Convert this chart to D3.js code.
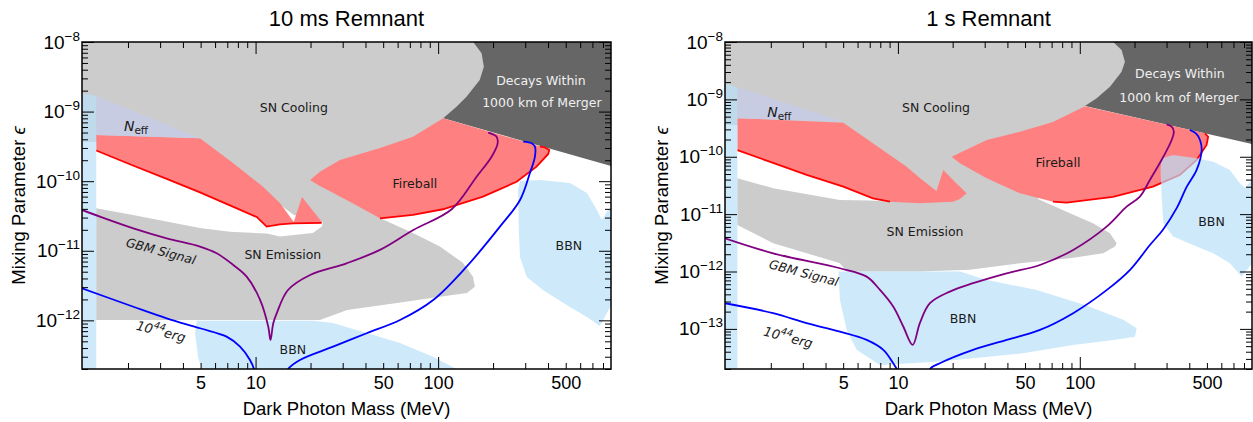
<!DOCTYPE html>
<html>
<head>
<meta charset="utf-8">
<script src="https://cdn.jsdelivr.net/npm/d3@7"></script>
<style>
  body { margin: 0; background: #fff; }
  svg { display: block; }
</style>
</head>
<body>
<svg width="1253" height="422"></svg>
<script>
// shared mass axis (MeV)
const massDomain = [1.12, 885];
const massLabelTicks = [5, 10, 50, 100, 500];
const massMajorTicks = [10, 100];
const massMinorTicks = [2, 3, 4, 5, 6, 7, 8, 9, 20, 30, 40, 50, 60, 70, 80, 90, 200, 300, 400, 500, 600, 700, 800];

// ---- 10 ms remnant ----
const ms10EpsDomain = [2e-13, 1e-8];
const ms10EpsTicks = [1e-12, 1e-11, 1e-10, 1e-9, 1e-8];
const ms10Decays = [[90, 1e-8], [885, 1e-8], [885, 1.65e-10], [106.6, 8.0e-10], [90, 1.05e-9]];
const ms10SN = [[1.0, 1e-8], [155.6, 1e-8], [173, 6.9e-9], [178, 4.42e-9], [169, 2.84e-9], [143, 1.64e-9],
  [126, 1.175e-9], [106.6, 8.0e-10], [61.8, 7.5e-11], [49.2, 2.86e-11], [72.8, 1.8e-11], [102.3, 1.15e-11],
  [136.7, 6.7e-12], [155.2, 4.25e-12], [159, 3.05e-12], [143.8, 2.48e-12], [102.3, 2.19e-12], [59.5, 1.78e-12],
  [31.7, 1.41e-12], [22.5, 1.01e-12], [1.34, 1.01e-12], [1.34, 4.08e-11], [2.13, 3.27e-11], [4.96, 2.13e-11],
  [7.24, 1.88e-11], [11.5, 1.77e-11], [13.6, 1.6e-11], [20.6, 1.8e-11], [23.0, 2.22e-11], [23.4, 2.59e-11],
  [16.2, 3.27e-11], [10.6, 7.5e-11], [4.96, 2.02e-10], [1.34, 3.66e-10], [1.0, 3.66e-10]];
const ms10FireA = [[1.34, 4.61e-10], [4.96, 4.13e-10], [7.52, 1.83e-10], [10.98, 8.34e-11], [13.6, 4.86e-11],
  [16.2, 2.59e-11], [17.95, 5.93e-11], [23.1, 2.59e-11], [23.0, 2.51e-11], [16.0, 2.47e-11], [13.6, 2.39e-11],
  [11.5, 2.23e-11], [10.14, 3.06e-11], [7.24, 4.48e-11], [4.96, 6.89e-11], [3.26, 1.08e-10], [2.13, 1.68e-10],
  [1.34, 2.76e-10]];
const ms10FireLineA = [[1.34, 2.76e-10], [2.13, 1.68e-10], [3.26, 1.08e-10], [4.96, 6.89e-11], [7.24, 4.48e-11],
  [10.14, 3.06e-11], [11.5, 2.23e-11], [13.6, 2.39e-11], [16.0, 2.47e-11], [23.0, 2.51e-11]];
const ms10FireB = [[19.9, 1.04e-10], [22.5, 1.37e-10], [29.0, 2.02e-10], [48.0, 3.0e-10], [72.8, 4.36e-10],
  [106.6, 8.0e-10], [361, 3.17e-10], [385, 3.05e-10], [406, 2.81e-10], [401, 2.46e-10], [346, 1.62e-10],
  [269, 9.8e-11], [176, 5.99e-11], [106.3, 3.95e-11], [72.8, 3.27e-11], [48.0, 2.93e-11], [31.5, 5.37e-11],
  [22.0, 8.82e-11]];
const ms10FireLineB = [[48.0, 2.93e-11], [72.8, 3.27e-11], [106.3, 3.95e-11], [176, 5.99e-11], [269, 9.8e-11],
  [346, 1.62e-10], [401, 2.46e-10], [406, 2.81e-10], [385, 3.05e-10], [361, 3.17e-10]];
const ms10Neff = [[1.34, 1.68e-9], [4.96, 4.13e-10], [1.34, 4.61e-10]];
const ms10Strip = [[1.0, 1.95e-9], [1.34, 1.68e-9], [1.34, 1e-13], [1.0, 1e-13]];
const ms10BBNLow = [[4.76, 9.9e-13], [20.6, 9.9e-13], [26.5, 9.2e-13], [40.6, 6.6e-13], [61.8, 4.73e-13],
  [93.7, 3.01e-13], [126, 2e-13], [150, 1.4e-13], [5.1, 1.4e-13], [5.07, 2e-13], [4.84, 2.98e-13], [4.66, 6.6e-13]];
const ms10BBNHigh = [[274, 7.5e-11], [281, 1.01e-10], [361, 1.04e-10], [527, 9.4e-11], [653, 6.77e-11],
  [741, 3.86e-11], [789, 2.77e-11], [851, 3.86e-11], [900, 4.26e-11], [900, 1.78e-12], [769, 8.3e-13],
  [653, 1.12e-12], [527, 1.56e-12], [375, 2.73e-12], [306, 4.2e-12], [281, 8.1e-12], [277, 1.8e-11]];
const ms10GBM = [[1.12, 3.86e-11], [1.405, 3.09e-11], [2.14, 2.1e-11], [3.26, 1.51e-11], [4.96, 1.15e-11],
  [6.12, 9.2e-12], [7.55, 6.25e-12], [8.94, 4.25e-12], [10.6, 1.96e-12], [11.74, 8.1e-13], [12.07, 5.23e-13],
  [12.5, 9.1e-13], [13.05, 1.26e-12], [15.05, 2.73e-12], [19.9, 4.49e-12], [31.5, 6.6e-12], [48.0, 1.03e-11],
  [73.1, 1.99e-11], [118.6, 3.95e-11], [162.5, 1.16e-10], [196.3, 2.25e-10], [211.8, 3.5e-10], [209, 4.36e-10],
  [188, 4.98e-10]];
const ms10ErgA = [[1.12, 2.89e-12], [2.14, 1.57e-12], [3.26, 1.07e-12], [4.96, 7.7e-13], [6.94, 5.83e-13],
  [8.22, 4.19e-13], [9.32, 2.7e-13], [9.8, 2e-13], [10.05, 1.4e-13]];
const ms10ErgB = [[14.6, 1.4e-13], [15.1, 2e-13], [17.5, 2.7e-13], [26.6, 4.19e-13], [40.6, 6.53e-13],
  [61.8, 1.01e-12], [94.0, 1.96e-12], [143.2, 5.91e-12], [218, 2.22e-11], [281, 5.37e-11], [318, 1.3e-10],
  [339, 2.25e-10], [339, 3.13e-10], [325, 3.5e-10], [292.5, 3.7e-10]];
const ms10Labels = [
  { text: 'SN Cooling', m: 16.2, eps: 1.13e-9 },
  { text: 'Fireball', m: 74.6, eps: 9.4e-11 },
  { text: 'SN Emission', m: 14.1, eps: 8.7e-12 },
  { text: 'BBN', m: 16.0, eps: 3.76e-13 },
  { text: 'BBN', m: 520, eps: 1.21e-11 },
  { text: 'Decays Within', m: 366, eps: 2.84e-9, light: true },
  { text: '1000 km of Merger', m: 370, eps: 1.37e-9, light: true }
];
const ms10NeffAt = [1.90, 5.26e-10];
const ms10GbmAt = [3.03, 9.9e-12];
const ms10ErgAt = [3.03, 6.8e-13];

// ---- 1 s remnant ----
const s1EpsDomain = [2e-14, 1e-8];
const s1EpsTicks = [1e-13, 1e-12, 1e-11, 1e-10, 1e-9, 1e-8];
const s1Decays = [[100.2, 1e-8], [885, 1e-8], [885, 1.67e-10], [106.7, 7.67e-10], [94.0, 9.76e-10]];
const s1SN = [[1.0, 1e-8], [152.7, 1e-8], [169.8, 7.26e-9], [177.1, 4.54e-9], [169.8, 3.04e-9], [146.5, 1.66e-9],
  [123.8, 1.045e-9], [106.7, 7.67e-10], [60.4, 8.8e-11], [58.9, 1.84e-11], [88.3, 1.04e-11], [118.1, 6.94e-12],
  [146.5, 4.65e-12], [159.5, 3.11e-12], [156.1, 2.72e-12], [134.6, 2.08e-12], [88.3, 1.71e-12], [46.9, 1.4e-12],
  [24.9, 1.07e-12], [13.2, 1.0e-12], [5.23, 1.0e-12], [4.80, 1.4e-12], [2.06, 3.11e-12], [1.31, 6.49e-12],
  [1.31, 4.22e-11], [2.06, 2.83e-11], [4.80, 1.77e-11], [7.02, 1.73e-11], [9.04, 1.64e-11], [7.97, 5.89e-11],
  [4.99, 2.93e-10], [1.30, 3.58e-10], [1.0, 3.58e-10]];
const s1FireA = [[1.31, 4.69e-10], [5.01, 3.93e-10], [7.29, 1.72e-10], [11.17, 6.73e-11], [13.2, 4.27e-11],
  [16.3, 2.54e-11], [17.76, 5.89e-11], [20.6, 3.64e-11], [23.9, 2.31e-11], [21.9, 1.84e-11], [20.1, 1.65e-11],
  [13.2, 1.55e-11], [9.04, 1.65e-11], [7.29, 1.89e-11], [5.01, 3.01e-11], [3.15, 4.82e-11], [2.06, 7.8e-11],
  [1.31, 1.31e-10]];
const s1FireLineA = [[1.31, 1.31e-10], [2.06, 7.8e-11], [3.15, 4.82e-11], [5.01, 3.01e-11], [7.29, 1.89e-11],
  [9.04, 1.65e-11]];
const s1FireB = [[19.75, 1.0e-10], [30.8, 1.96e-10], [46.9, 2.74e-10], [71.2, 4.04e-10], [106.7, 7.58e-10],
  [488, 2.56e-10], [508, 2.24e-10], [498, 1.61e-10], [439, 8.8e-11], [355, 4.82e-11], [252.5, 3.01e-11],
  [152.2, 2.0e-11], [84.7, 1.59e-11], [71.2, 1.65e-11], [46.9, 2.31e-11], [30.8, 4.22e-11], [21.9, 7.7e-11]];
const s1FireLineB = [[71.2, 1.65e-11], [84.7, 1.59e-11], [152.2, 2.0e-11], [252.5, 3.01e-11], [355, 4.82e-11],
  [439, 8.8e-11], [498, 1.61e-10], [508, 2.24e-10], [488, 2.56e-10]];
const s1Neff = [[1.31, 1.62e-9], [5.01, 4.09e-10], [1.31, 4.69e-10]];
const s1Strip = [[1.0, 2.1e-9], [1.31, 1.62e-9], [1.31, 1e-14], [1.0, 1e-14]];
const s1BBNLow = [[4.71, 1e-12], [21.9, 1e-12], [30.8, 7.14e-13], [57.9, 4.78e-13], [106.7, 2.62e-13],
  [173.3, 1.44e-13], [205.4, 1.03e-13], [201, 7.3e-14], [152.8, 6.43e-14], [91.7, 5.26e-14], [48.7, 3.77e-14],
  [25.9, 3.09e-14], [17.0, 2.69e-14], [7.97, 2.36e-14], [5.93, 4.31e-14], [5.23, 9.6e-14], [4.80, 3.2e-13]];
const s1BBNHigh = [[278, 5.89e-11], [282, 9.4e-11], [326, 1.07e-10], [439, 9.4e-11], [542, 8.2e-11],
  [669, 5.89e-11], [759, 3.45e-11], [809, 2.86e-11], [900, 4.27e-11], [900, 1.47e-12], [776, 8.15e-13],
  [669, 1.4e-12], [542, 2.08e-12], [439, 2.72e-12], [326, 4.06e-12], [288, 6.94e-12], [282, 2.02e-11]];
const s1GBM = [[1.12, 3.8e-12], [2.06, 2.08e-12], [4.80, 1.14e-12], [6.73, 8.15e-13], [7.97, 4.78e-13],
  [9.42, 2.45e-13], [10.7, 1.1e-13], [12.05, 5.26e-14], [13.2, 1.26e-13], [15.0, 2.8e-13], [19.3, 4.47e-13],
  [25.9, 6.25e-13], [39.6, 9.3e-13], [60.4, 1.3e-12], [92.0, 2.38e-12], [140.5, 6.05e-12], [181, 1.35e-11],
  [214, 2.02e-11], [243, 3.94e-11], [288, 1.0e-10], [320, 1.96e-10], [329, 2.74e-10], [320, 3.34e-10],
  [300, 3.68e-10]];
const s1ErgA = [[1.12, 2.8e-13], [2.06, 1.88e-13], [3.15, 1.26e-13], [4.80, 8.97e-14], [6.73, 6.43e-14],
  [8.31, 4.31e-14], [9.42, 2.52e-14], [9.84, 2e-14], [10.05, 1.4e-14]];
const s1ErgB = [[14.6, 1.4e-14], [15.0, 2e-14], [17.0, 2.52e-14], [25.9, 4.31e-14], [39.6, 6.43e-14],
  [60.4, 9.6e-14], [92.0, 1.88e-13], [141, 4.78e-13], [189, 1.07e-12], [243, 2.9e-12], [286, 5.3e-12],
  [341, 1.27e-11], [387, 2.98e-11], [439, 5.89e-11], [468, 1.31e-10], [458, 1.96e-10], [435, 2.55e-10],
  [403, 2.93e-10]];
const s1Labels = [
  { text: 'SN Cooling', m: 16.2, eps: 7.08e-10 },
  { text: 'Fireball', m: 75.9, eps: 7.8e-11 },
  { text: 'SN Emission', m: 14.1, eps: 4.9e-12 },
  { text: 'BBN', m: 22.8, eps: 1.49e-13 },
  { text: 'BBN', m: 530, eps: 7.3e-12 },
  { text: 'Decays Within', m: 355, eps: 2.88e-9, light: true },
  { text: '1000 km of Merger', m: 351, eps: 1.10e-9, light: true }
];
const s1NeffAt = [1.91, 4.94e-10];
const s1GbmAt = [3.04, 9.46e-13];
const s1ErgAt = [2.49, 6.97e-14];

const svg = d3.select('svg');
const plotTop = 42;
const plotBottom = 369;
const sansFont = '"Liberation Sans", Arial, sans-serif';
const labelFont = '"DejaVu Sans", Verdana, sans-serif';
const bbnFill = 'rgb(184,224,248)';

const panels = [
  { id: 'ms10', title: '10 ms Remnant', left: 82, right: 611, epsDomain: ms10EpsDomain, epsTicks: ms10EpsTicks,
    decays: ms10Decays, sn: ms10SN, fires: [ms10FireA, ms10FireB], fireLines: [ms10FireLineA, ms10FireLineB],
    neff: ms10Neff, strip: ms10Strip, bbn: [ms10BBNLow, ms10BBNHigh], gbm: ms10GBM, erg: [ms10ErgA, ms10ErgB],
    labels: ms10Labels, neffAt: ms10NeffAt, gbmAt: ms10GbmAt, ergAt: ms10ErgAt },
  { id: 's1', title: '1 s Remnant', left: 725, right: 1252, epsDomain: s1EpsDomain, epsTicks: s1EpsTicks,
    decays: s1Decays, sn: s1SN, fires: [s1FireA, s1FireB], fireLines: [s1FireLineA, s1FireLineB],
    neff: s1Neff, strip: s1Strip, bbn: [s1BBNLow, s1BBNHigh], gbm: s1GBM, erg: [s1ErgA, s1ErgB],
    labels: s1Labels, neffAt: s1NeffAt, gbmAt: s1GbmAt, ergAt: s1ErgAt }
];

const render = p => {
  const innerWidth = p.right - p.left;
  const innerHeight = plotBottom - plotTop;
  const xScale = d3.scaleLog().domain(massDomain).range([p.left, p.right]);
  const yScale = d3.scaleLog().domain(p.epsDomain).range([plotBottom, plotTop]);

  svg.append('clipPath').attr('id', `clip-${p.id}`)
    .append('rect')
    .attr('x', p.left).attr('y', plotTop)
    .attr('width', innerWidth).attr('height', innerHeight);

  const g = svg.append('g').attr('clip-path', `url(#clip-${p.id})`);

  const lineGen = d3.line().x(d => xScale(d[0])).y(d => yScale(d[1]));
  const smoothGen = d3.line().x(d => xScale(d[0])).y(d => yScale(d[1]))
    .curve(d3.curveCatmullRom.alpha(0.5));

  const fillShape = (pts, fill, opacity = 1) => g.append('path')
    .attr('d', lineGen(pts) + 'Z')
    .attr('fill', fill)
    .attr('fill-opacity', opacity);
  const strokeLine = (pts, color, gen) => g.append('path')
    .attr('d', gen(pts))
    .attr('fill', 'none')
    .attr('stroke', color)
    .attr('stroke-width', 1.8);

  fillShape(p.decays, '#666666');
  fillShape(p.sn, '#cccccc');
  p.fires.forEach(f => fillShape(f, '#ff8080'));
  p.fireLines.forEach(f => strokeLine(f, '#ff0000', lineGen));
  fillShape(p.neff, '#c8cce3');
  fillShape(p.strip, bbnFill, 0.7);
  p.bbn.forEach(b => fillShape(b, bbnFill, 0.7));
  strokeLine(p.gbm, '#800080', smoothGen);
  p.erg.forEach(e => strokeLine(e, '#0000ff', smoothGen));

  // region labels
  p.labels.forEach(l => {
    g.append('text')
      .attr('x', xScale(l.m)).attr('y', yScale(l.eps))
      .attr('text-anchor', 'middle')
      .attr('dominant-baseline', 'central')
      .attr('font-family', labelFont)
      .attr('font-size', 12.5)
      .attr('fill', l.light ? '#f0f0f0' : '#1a1a1a')
      .text(l.text);
  });

  const neff = g.append('text')
    .attr('x', xScale(p.neffAt[0])).attr('y', yScale(p.neffAt[1]))
    .attr('font-family', labelFont).attr('fill', '#1a1a1a');
  neff.append('tspan').attr('font-size', 14).attr('font-style', 'italic').text('N');
  neff.append('tspan').attr('font-size', 10.5).attr('dy', 3).text('eff');

  g.append('text')
    .attr('transform', `translate(${xScale(p.gbmAt[0])},${yScale(p.gbmAt[1])}) rotate(15)`)
    .attr('text-anchor', 'middle')
    .attr('dominant-baseline', 'central')
    .attr('font-family', labelFont)
    .attr('font-size', 12.5)
    .attr('font-style', 'italic')
    .attr('fill', '#1a1a1a')
    .text('GBM Signal');

  const erg = g.append('text')
    .attr('transform', `translate(${xScale(p.ergAt[0])},${yScale(p.ergAt[1])}) rotate(15)`)
    .attr('text-anchor', 'middle')
    .attr('font-family', labelFont)
    .attr('font-style', 'italic')
    .attr('fill', '#1a1a1a');
  erg.append('tspan').attr('font-size', 13).attr('dy', 4).text('10');
  erg.append('tspan').attr('font-size', 9.5).attr('dy', -6).text('44');
  erg.append('tspan').attr('font-size', 13).attr('dy', 6).text('erg');

  // axes: ticks pointing inward on all four sides
  const epsMinor = [];
  const lowDecade = Math.floor(Math.log10(p.epsDomain[0]));
  for (let e = lowDecade; e < -8; e++) {
    for (let k = 2; k <= 9; k++) {
      const v = k * Math.pow(10, e);
      if (v >= p.epsDomain[0] && v <= p.epsDomain[1]) epsMinor.push(v);
    }
  }

  const axesG = svg.append('g').attr('color', '#000');
  const addAxis = (axis, transform) => {
    const a = axesG.append('g').attr('transform', transform).call(axis);
    a.select('.domain').remove();
    a.selectAll('line').attr('stroke-width', 1);
    return a;
  };

  [[d3.axisBottom, `translate(0,${plotBottom})`], [d3.axisTop, `translate(0,${plotTop})`]].forEach(([ax, tr]) => {
    addAxis(ax(xScale).tickValues(massMinorTicks).tickSize(-6).tickFormat(''), tr);
    addAxis(ax(xScale).tickValues(massMajorTicks).tickSize(-12).tickFormat(''), tr);
  });
  [[d3.axisLeft, `translate(${p.left},0)`], [d3.axisRight, `translate(${p.right},0)`]].forEach(([ax, tr]) => {
    addAxis(ax(yScale).tickValues(epsMinor).tickSize(-6).tickFormat(''), tr);
    addAxis(ax(yScale).tickValues(p.epsTicks).tickSize(-12).tickFormat(''), tr);
  });

  const xLabels = addAxis(d3.axisBottom(xScale).tickValues(massLabelTicks).tickSize(0).tickPadding(7)
    .tickFormat(d3.format('d')), `translate(0,${plotBottom})`);
  xLabels.attr('font-size', 18).attr('font-family', sansFont);

  const yLabels = addAxis(d3.axisLeft(yScale).tickValues(p.epsTicks).tickSize(0).tickPadding(2)
    .tickFormat(''), `translate(${p.left},0)`);
  yLabels.attr('font-size', 19).attr('font-family', sansFont);
  yLabels.selectAll('.tick text').each(function (d) {
    const t = d3.select(this);
    t.append('tspan').text('10');
    t.append('tspan').attr('font-size', 13.5).attr('dy', -8)
      .text('\u2212' + Math.abs(Math.round(Math.log10(d))));
  });

  axesG.append('rect')
    .attr('x', p.left).attr('y', plotTop)
    .attr('width', innerWidth).attr('height', innerHeight)
    .attr('fill', 'none').attr('stroke', '#000').attr('stroke-width', 1.5);

  // titles
  svg.append('text')
    .attr('x', (p.left + p.right) / 2).attr('y', 26)
    .attr('text-anchor', 'middle')
    .attr('font-family', sansFont).attr('font-size', 22)
    .text(p.title);

  svg.append('text')
    .attr('x', (p.left + p.right) / 2).attr('y', 415)
    .attr('text-anchor', 'middle')
    .attr('font-family', sansFont).attr('font-size', 18.5)
    .text('Dark Photon Mass (MeV)');

  const yTitle = svg.append('text')
    .attr('transform', `translate(${p.left - 57},${(plotTop + plotBottom) / 2}) rotate(-90)`)
    .attr('text-anchor', 'middle')
    .attr('font-family', sansFont).attr('font-size', 18.5);
  yTitle.append('tspan').text('Mixing Parameter ');
  yTitle.append('tspan').attr('font-style', 'italic').text('\u03f5');
};

panels.forEach(render);
</script>
</body>
</html>
